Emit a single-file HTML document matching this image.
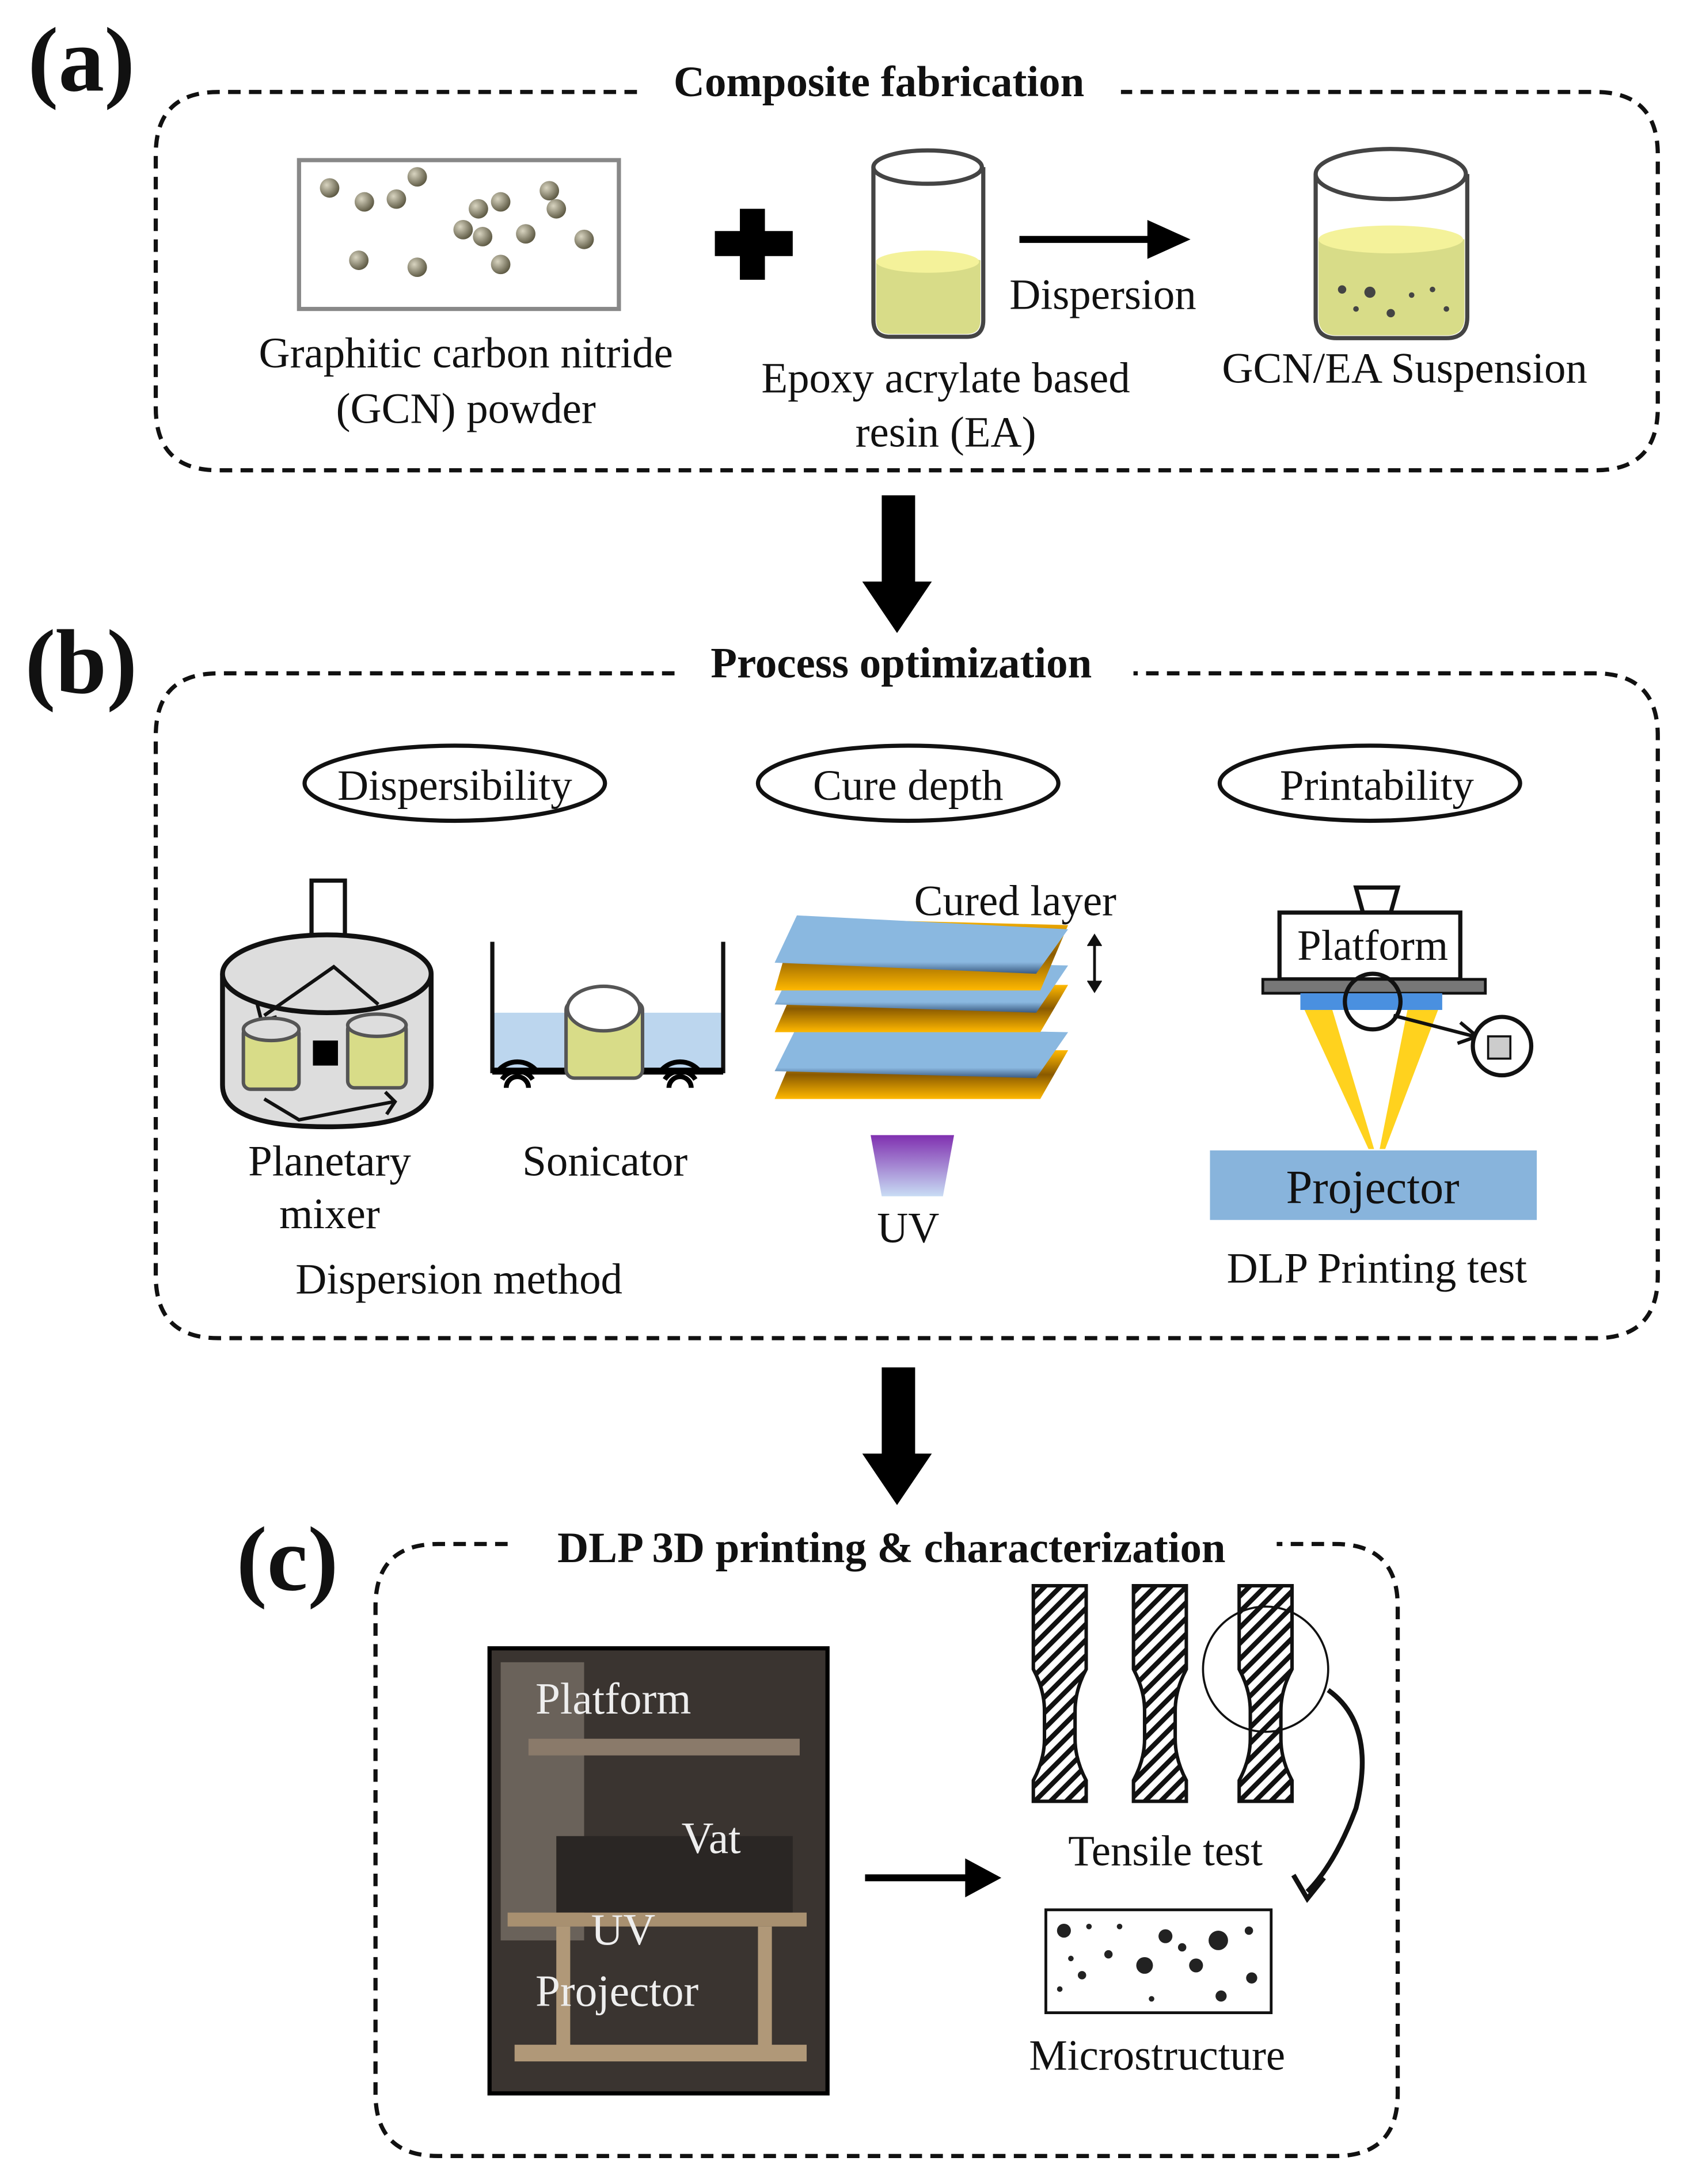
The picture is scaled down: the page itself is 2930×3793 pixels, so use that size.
<!DOCTYPE html>
<html><head><meta charset="utf-8"><style>
html,body{margin:0;padding:0;background:#fff}
svg{display:block}
text{font-family:"Liberation Serif",serif;fill:#111}
</style></head><body>
<svg width="2930" height="3793" viewBox="0 0 1213 1570" xmlns="http://www.w3.org/2000/svg">
<defs>
<linearGradient id="uv" x1="0" y1="0" x2="0" y2="1"><stop offset="0" stop-color="#8030b0"/><stop offset="1" stop-color="#c8dcf4"/></linearGradient>
<linearGradient id="edge" x1="0" y1="0" x2="0" y2="1"><stop offset="0" stop-color="#ffb800"/><stop offset="0.5" stop-color="#8a5a00"/><stop offset="1" stop-color="#ffb800"/></linearGradient>
<linearGradient id="blue" x1="0" y1="0" x2="0" y2="1"><stop offset="0" stop-color="#8ab8e0"/><stop offset="0.8" stop-color="#8ab8e0"/><stop offset="1" stop-color="#3a5a80"/></linearGradient>
<radialGradient id="ball" cx="0.35" cy="0.35" r="0.7"><stop offset="0" stop-color="#d8d4c0"/><stop offset="1" stop-color="#5a5640"/></radialGradient>
</defs>
<g fill="none" stroke="#111" stroke-width="3" stroke-dasharray="9,6">
<path d="M458,66 H157 Q112,66 112,111 V293 Q112,338 157,338 H1147 Q1192,338 1192,293 V111 Q1192,66 1147,66 H806"/>
<path d="M485,484 H157 Q112,484 112,529 V917 Q112,962 157,962 H1147 Q1192,962 1192,917 V529 Q1192,484 1147,484 H815"/>
<path d="M365,1110 H315 Q270,1110 270,1155 V1505 Q270,1550 315,1550 H960 Q1005,1550 1005,1505 V1155 Q1005,1110 960,1110 H918"/>
</g>
<text x="20" y="65" font-size="66" font-weight="bold">(a)</text>
<text x="18" y="498" font-size="66" font-weight="bold">(b)</text>
<text x="170" y="1143" font-size="66" font-weight="bold">(c)</text>
<text x="632" y="69" font-size="31" font-weight="bold" text-anchor="middle">Composite fabrication</text>
<text x="648" y="487" font-size="31" font-weight="bold" text-anchor="middle">Process optimization</text>
<text x="641" y="1123" font-size="31" font-weight="bold" text-anchor="middle">DLP 3D printing &amp; characterization</text>
<g font-size="31">
<!-- (a) -->
<rect x="215" y="115" width="230" height="107" fill="#fff" stroke="#888" stroke-width="3"/>
<g fill="url(#ball)">
<circle cx="237" cy="135" r="7"/><circle cx="262" cy="145" r="7"/><circle cx="285" cy="143" r="7"/><circle cx="300" cy="127" r="7"/>
<circle cx="344" cy="150" r="7"/><circle cx="360" cy="145" r="7"/><circle cx="395" cy="137" r="7"/><circle cx="400" cy="150" r="7"/>
<circle cx="333" cy="165" r="7"/><circle cx="347" cy="170" r="7"/><circle cx="378" cy="168" r="7"/><circle cx="420" cy="172" r="7"/>
<circle cx="258" cy="187" r="7"/><circle cx="300" cy="192" r="7"/><circle cx="360" cy="190" r="7"/>
</g>
<text x="335" y="264" text-anchor="middle">Graphitic carbon nitride</text>
<text x="335" y="304" text-anchor="middle">(GCN) powder</text>
<path d="M532,150 h18 v16 h20 v18 h-20 v17 h-18 v-17 h-18 v-18 h18z" fill="#000"/>
<path d="M628,120 v110 q0,12 12,12 h55 q12,0 12,-12 v-110" fill="#fff" stroke="#444" stroke-width="3"/>
<path d="M630,187 q38,-10 75,0 v43 q0,10 -10,10 h-55 q-10,0 -10,-10z" fill="#d8dc88"/>
<ellipse cx="667" cy="188" rx="37" ry="8" fill="#f4f29a"/>
<ellipse cx="667" cy="120" rx="39" ry="12" fill="#fff" stroke="#444" stroke-width="3"/>
<line x1="733" y1="172" x2="830" y2="172" stroke="#000" stroke-width="5"/>
<path d="M825,158 L856,172 L825,186z" fill="#000"/>
<text x="793" y="222" text-anchor="middle">Dispersion</text>
<text x="680" y="282" text-anchor="middle">Epoxy acrylate based</text>
<text x="680" y="321" text-anchor="middle">resin (EA)</text>
<path d="M946,125 v103 q0,15 15,15 h79 q15,0 15,-15 v-103" fill="#fff" stroke="#444" stroke-width="3"/>
<path d="M948,172 q52,-10 105,0 v56 q0,13 -13,13 h-79 q-13,0 -13,-13z" fill="#d8dc88"/>
<ellipse cx="1000" cy="172" rx="52" ry="10" fill="#f4f29a"/>
<ellipse cx="1000" cy="125" rx="54" ry="18" fill="#fff" stroke="#444" stroke-width="3"/>
<g fill="#444"><circle cx="965" cy="208" r="3"/><circle cx="985" cy="210" r="4"/><circle cx="1000" cy="225" r="3"/><circle cx="1015" cy="212" r="2"/><circle cx="1030" cy="208" r="2"/><circle cx="975" cy="222" r="2"/><circle cx="1040" cy="222" r="2"/></g>
<text x="1010" y="275" text-anchor="middle">GCN/EA  Suspension</text>
<!-- big arrows -->
<path d="M634,356 h24 v62 h12 l-25,37 l-25,-37 h14z" fill="#000"/>
<path d="M634,983 h24 v62 h12 l-25,37 l-25,-37 h14z" fill="#000"/>
<!-- (b) -->
<g fill="#fff" stroke="#111" stroke-width="3">
<ellipse cx="327" cy="563" rx="108" ry="27"/><ellipse cx="653" cy="563" rx="108" ry="27"/><ellipse cx="985" cy="563" rx="108" ry="27"/></g>
<text x="327" y="575" text-anchor="middle">Dispersibility</text>
<text x="653" y="575" text-anchor="middle">Cure depth</text>
<text x="990" y="575" text-anchor="middle">Printability</text>
<!-- mixer -->
<rect x="224" y="633" width="24" height="45" fill="#fff" stroke="#111" stroke-width="3"/>
<path d="M160,700 v80 q0,30 75,30 q75,0 75,-30 v-80" fill="#ddd" stroke="#111" stroke-width="3.5"/>
<ellipse cx="235" cy="700" rx="75" ry="28" fill="#ddd" stroke="#111" stroke-width="3.5"/>
<path d="M272,722 L240,695 L190,730" fill="none" stroke="#111" stroke-width="2.5"/><path d="M185,722 l3,12 l11,-3" fill="none" stroke="#111" stroke-width="2.5"/>
<path d="M190,790 L215,805 L283,792" fill="none" stroke="#111" stroke-width="2.5"/><path d="M277,785 l7,7 l-6,9" fill="none" stroke="#111" stroke-width="2.5"/>
<g stroke="#555" stroke-width="2.5"><rect x="175" y="738" width="40" height="45" rx="5" fill="#d8dc88"/><ellipse cx="195" cy="740" rx="20" ry="8" fill="#ddd"/>
<rect x="250" y="735" width="42" height="47" rx="5" fill="#d8dc88"/><ellipse cx="271" cy="737" rx="21" ry="8" fill="#ddd"/></g>
<rect x="225" y="748" width="18" height="18" fill="#000"/>
<text x="237" y="845" text-anchor="middle">Planetary</text>
<text x="237" y="883" text-anchor="middle">mixer</text>
<!-- sonicator -->
<rect x="355" y="728" width="164" height="40" fill="#bcd6ee"/>
<path d="M354,677 V770 H520 V677" fill="none" stroke="#111" stroke-width="3"/>
<line x1="354" y1="770" x2="520" y2="770" stroke="#000" stroke-width="5"/>
<rect x="407" y="720" width="55" height="55" rx="6" fill="#d8dc88" stroke="#555" stroke-width="2.5"/>
<ellipse cx="434" cy="725" rx="26" ry="16" fill="#fff" stroke="#555" stroke-width="2.5"/>
<g fill="none" stroke="#000" stroke-width="3.5"><path d="M364,782 a8,8 0 0 1 16,0 M361,776 a13,13 0 0 1 22,0 M358,770 a18,18 0 0 1 28,0"/><path d="M481,782 a8,8 0 0 1 16,0 M478,776 a13,13 0 0 1 22,0 M475,770 a18,18 0 0 1 28,0"/></g>
<text x="435" y="845" text-anchor="middle">Sonicator</text>
<text x="330" y="930" text-anchor="middle">Dispersion method</text>
<!-- layers -->
<path d="M572,755 L768,755 L748,790 L557,790z" fill="url(#edge)"/><path d="M573,738 L768,742 L745,775 L557,770z" fill="url(#blue)"/>
<path d="M572,708 L768,708 L748,742 L557,742z" fill="url(#edge)"/><path d="M573,690 L768,694 L745,728 L557,722z" fill="url(#blue)"/>
<path d="M572,660 L768,665 L748,712 L557,712z" fill="url(#edge)"/><path d="M573,658 L768,668 L745,700 L557,692z" fill="url(#blue)"/>
<line x1="787" y1="675" x2="787" y2="710" stroke="#111" stroke-width="2"/><path d="M782,680 l5,-8 l5,8 M782,705 l5,8 l5,-8" fill="#111" stroke="#111"/>
<text x="730" y="658" text-anchor="middle">Cured layer</text>
<path d="M626,816 H686 L678,860 H634z" fill="url(#uv)"/>
<text x="653" y="893" text-anchor="middle">UV</text>
<!-- printer -->
<path d="M975,638 h30 l-5,18 h-20z" fill="#fff" stroke="#111" stroke-width="3"/>
<rect x="920" y="656" width="130" height="48" fill="#fff" stroke="#111" stroke-width="3"/>
<text x="987" y="690" text-anchor="middle">Platform</text>
<rect x="908" y="704" width="160" height="10" fill="#777" stroke="#111" stroke-width="2"/>
<rect x="935" y="714" width="102" height="12" fill="#4a90e0"/>
<path d="M938,726 h20 l30,100 h-4z" fill="#ffd21e"/><path d="M1012,726 h22 l-38,100 h-4z" fill="#ffd21e"/>
<circle cx="987" cy="720" r="20" fill="none" stroke="#111" stroke-width="3"/>
<path d="M1002,730 L1060,745" stroke="#111" stroke-width="2.5"/><path d="M1050,735 l12,10 l-14,5" fill="none" stroke="#111" stroke-width="2.5"/>
<circle cx="1080" cy="752" r="21" fill="#fff" stroke="#111" stroke-width="3"/>
<rect x="1070" y="745" width="16" height="16" fill="#ccc" stroke="#111" stroke-width="1.5"/>
<rect x="870" y="827" width="235" height="50" fill="#88b4dc"/>
<text x="987" y="865" font-size="34" text-anchor="middle">Projector</text>
<text x="990" y="922" text-anchor="middle">DLP Printing test</text>
<!-- (c) photo -->
<rect x="352" y="1185" width="243" height="320" fill="#3a3430" stroke="#000" stroke-width="3"/>
<rect x="360" y="1195" width="60" height="200" fill="#6a625a"/>
<rect x="380" y="1250" width="195" height="12" fill="#8a7a6a"/>
<rect x="400" y="1320" width="170" height="55" fill="#2a2624"/>
<rect x="365" y="1375" width="215" height="10" fill="#a89070"/>
<rect x="370" y="1470" width="210" height="12" fill="#b09878"/>
<rect x="400" y="1385" width="10" height="90" fill="#b09878"/><rect x="545" y="1385" width="10" height="90" fill="#b09878"/>
<g font-size="32"><text x="385" y="1232" style="fill:#eee">Platform</text><text x="490" y="1332" style="fill:#eee">Vat</text><text x="425" y="1398" style="fill:#eee">UV</text><text x="385" y="1442" style="fill:#eee">Projector</text></g>
<line x1="622" y1="1350" x2="700" y2="1350" stroke="#000" stroke-width="5"/>
<path d="M694,1336 L720,1350 L694,1364z" fill="#000"/>
<defs><pattern id="hatch" width="8" height="8" patternUnits="userSpaceOnUse" patternTransform="rotate(45)"><rect width="8" height="8" fill="#fff"/><rect width="3.5" height="8" fill="#111"/></pattern></defs>
<g fill="url(#hatch)" stroke="#111" stroke-width="2.5">
<path d="M743,1140 h38 v60 q-8,15 -8,30 v20 q0,15 8,30 v15 h-38 v-15 q8,-15 8,-30 v-20 q0,-15 -8,-30z"/>
<path d="M815,1140 h38 v60 q-8,15 -8,30 v20 q0,15 8,30 v15 h-38 v-15 q8,-15 8,-30 v-20 q0,-15 -8,-30z"/>
<path d="M891,1140 h38 v60 q-8,15 -8,30 v20 q0,15 8,30 v15 h-38 v-15 q8,-15 8,-30 v-20 q0,-15 -8,-30z"/>
</g>
<circle cx="910" cy="1200" r="45" fill="none" stroke="#111" stroke-width="1.5"/>
<path d="M955,1215 Q990,1240 975,1300 Q960,1340 940,1360" fill="none" stroke="#111" stroke-width="3.5"/>
<path d="M930,1348 l10,17 l12,-15" fill="none" stroke="#111" stroke-width="3.5"/>
<text x="838" y="1341" text-anchor="middle">Tensile test</text>
<rect x="752" y="1373" width="162" height="74" fill="#fff" stroke="#111" stroke-width="2"/>
<g fill="#222"><circle cx="765" cy="1388" r="5"/><circle cx="783" cy="1385" r="2"/><circle cx="805" cy="1385" r="2"/><circle cx="770" cy="1408" r="2"/><circle cx="778" cy="1420" r="3"/><circle cx="797" cy="1405" r="3"/><circle cx="823" cy="1413" r="6"/><circle cx="838" cy="1392" r="5"/><circle cx="850" cy="1400" r="3"/><circle cx="876" cy="1395" r="7"/><circle cx="860" cy="1413" r="5"/><circle cx="898" cy="1388" r="3"/><circle cx="900" cy="1422" r="4"/><circle cx="878" cy="1435" r="4"/><circle cx="828" cy="1437" r="2"/><circle cx="762" cy="1430" r="2"/></g>
<text x="832" y="1488" text-anchor="middle">Microstructure</text>
</g>
</svg>
</body></html>
